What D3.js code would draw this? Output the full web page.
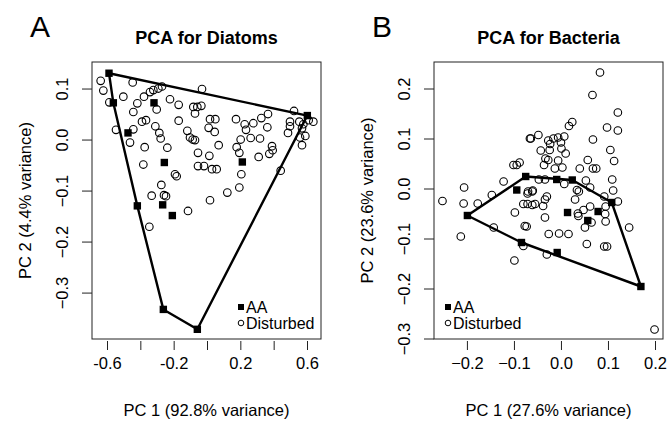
<!DOCTYPE html>
<html>
<head>
<meta charset="utf-8">
<script src="https://cdn.jsdelivr.net/npm/d3@7"></script>
<style>
  body { margin: 0; background: #fff; }
  text { font-family: "Liberation Sans", Arial, Helvetica, sans-serif; fill: #000; }
</style>
</head>
<body>
<svg id="chart" width="669" height="421"></svg>
<script>
// PCA scores: [PC1, PC2]
var diatomsAA = [
  [-0.588, 0.131], [0.602, 0.048], [-0.058, -0.371], [-0.262, -0.332], [-0.418, -0.129],
  [-0.562, 0.073], [-0.318, 0.073], [-0.474, 0.014], [-0.256, -0.044], [-0.266, -0.127],
  [-0.208, -0.148], [0.212, -0.043]
];
var diatomsDisturbed = [
  [-0.638, 0.116], [-0.622, 0.097], [-0.446, 0.113], [-0.502, 0.085], [-0.586, 0.074],
  [-0.418, 0.072], [-0.378, 0.085], [-0.342, 0.094], [-0.322, 0.098], [-0.292, 0.101],
  [-0.270, 0.105], [-0.302, 0.060], [-0.222, 0.080], [-0.170, 0.069], [-0.082, 0.065],
  [-0.442, 0.055], [-0.546, 0.020], [-0.442, 0.021], [-0.390, 0.036], [-0.366, 0.039],
  [-0.310, 0.027], [-0.286, 0.014], [-0.278, 0.003], [-0.238, -0.015], [-0.462, -0.005],
  [-0.374, -0.014], [-0.170, 0.038], [-0.118, 0.018], [-0.086, 0.001], [-0.072, 0.000],
  [-0.054, -0.025], [-0.382, -0.048], [-0.192, -0.067], [-0.182, -0.071], [-0.054, -0.051],
  [-0.274, -0.088], [-0.332, -0.109], [-0.258, -0.108], [-0.246, -0.110], [-0.114, -0.139],
  [-0.346, -0.170], [-0.030, 0.100], [-0.058, 0.065], [-0.034, 0.067], [-0.072, 0.052],
  [0.018, 0.041], [0.050, 0.041], [0.010, 0.024], [0.046, 0.016], [0.174, 0.041],
  [0.226, 0.031], [0.278, 0.033], [0.326, 0.043], [0.366, 0.051], [0.234, 0.020],
  [0.362, 0.025], [0.202, 0.001], [0.262, 0.004], [0.318, 0.003], [0.178, -0.014],
  [0.194, -0.025], [0.390, -0.012], [0.394, -0.020], [0.374, -0.027], [0.310, -0.033],
  [-0.102, 0.005], [0.070, -0.010], [0.014, -0.031], [-0.018, -0.051], [0.030, -0.057],
  [0.058, -0.057], [0.206, -0.067], [0.194, -0.093], [0.122, -0.103], [0.018, -0.118],
  [0.442, -0.060], [0.486, 0.014], [0.498, 0.036], [0.522, 0.057], [0.554, 0.036],
  [0.570, 0.023], [0.590, 0.008], [0.570, -0.010], [0.558, 0.005], [0.638, 0.036],
  [0.610, 0.039], [0.578, 0.031], [0.498, 0.027]
];

var bacteriaAA = [
  [-0.199, -0.053], [-0.075, 0.025], [-0.009, 0.019], [0.024, 0.018], [0.108, -0.027],
  [0.170, -0.195], [-0.008, -0.127], [-0.084, -0.107], [-0.094, -0.002], [0.014, -0.047],
  [0.079, -0.045], [0.057, -0.063]
];
var bacteriaDisturbed = [
  [-0.252, -0.024], [-0.206, 0.003], [-0.207, -0.029], [-0.177, -0.029], [-0.147, -0.012],
  [-0.122, 0.015], [-0.101, 0.048], [-0.094, 0.048], [-0.088, 0.053], [-0.066, 0.101],
  [-0.098, -0.047], [-0.080, -0.030], [-0.071, -0.009], [-0.061, -0.005], [-0.061, -0.032],
  [0.083, 0.233], [0.067, 0.188], [0.121, 0.153], [0.017, 0.126], [0.024, 0.134],
  [0.098, 0.123], [0.121, 0.117], [0.068, 0.099], [-0.064, 0.101], [-0.048, 0.108],
  [-0.027, 0.097], [-0.016, 0.101], [-0.006, 0.103], [0.007, 0.105], [-0.023, 0.090],
  [0.000, 0.093], [-0.043, 0.077], [-0.024, 0.078], [0.001, 0.081], [0.010, 0.071],
  [-0.033, 0.061], [-0.027, 0.058], [-0.036, 0.048], [-0.006, 0.057], [-0.013, 0.041],
  [0.003, 0.043], [0.057, 0.058], [0.068, 0.041], [0.075, 0.041], [0.040, 0.041],
  [0.105, 0.078], [0.113, 0.056], [0.109, 0.019], [0.111, -0.003], [0.121, -0.025],
  [-0.047, 0.019], [-0.034, 0.019], [0.053, 0.017], [0.007, 0.010], [0.034, -0.002],
  [0.062, 0.003], [0.092, -0.015], [-0.070, -0.005], [-0.060, -0.003], [-0.071, -0.030],
  [-0.055, -0.030], [-0.034, -0.021], [-0.038, -0.034], [-0.030, -0.015], [0.030, -0.021],
  [0.038, -0.005], [0.048, -0.042], [0.062, -0.035], [0.095, -0.035], [-0.034, -0.057],
  [0.036, -0.049], [-0.073, -0.075], [-0.026, -0.090], [-0.004, -0.089], [0.016, -0.090],
  [-0.030, -0.131], [0.055, -0.110], [0.092, -0.115], [0.098, -0.115], [0.051, -0.077],
  [0.065, -0.067], [0.095, -0.065], [0.145, -0.077], [0.199, -0.281], [0.094, -0.050],
  [0.037, -0.054], [-0.213, -0.095], [-0.143, -0.077], [-0.099, -0.143], [-0.077, -0.074],
  [-0.080, -0.114]
];

var diatomXTicks = [-0.6, -0.4, -0.2, 0.0, 0.2, 0.4, 0.6];
var diatomXLabels = ['-0.6', '', '-0.2', '', '0.2', '', '0.6'];
var diatomYTicks = [-0.3, -0.2, -0.1, 0.0, 0.1];
var bacteriaXTicks = [-0.2, -0.1, 0.0, 0.1, 0.2];
var bacteriaYTicks = [-0.3, -0.2, -0.1, 0.0, 0.1, 0.2];

var legendLabels = ['AA', 'Disturbed'];

var svg = d3.select('#chart');
var fmt = d3.format('.1f');

function drawPanel(opt) {
    var x = d3.scaleLinear().domain(opt.xDomain).range([opt.left, opt.right]);
    var y = d3.scaleLinear().domain(opt.yDomain).range([opt.bottom, opt.top]);
    var g = svg.append('g');

    // panel letter and title
    g.append('text')
        .attr('x', opt.letterX)
        .attr('y', 37)
        .style('font-size', '30px')
        .text(opt.letter);
    g.append('text')
        .attr('x', (opt.left + opt.right) / 2)
        .attr('y', 44)
        .attr('text-anchor', 'middle')
        .style('font-size', '18px')
        .style('font-weight', 'bold')
        .text(opt.title);

    // x axis
    var xAxis = d3.axisBottom(x)
        .tickValues(opt.xTicks)
        .tickSize(9)
        .tickPadding(7)
        .tickFormat(function(d, i) { return opt.xLabels ? opt.xLabels[i] : fmt(d); });
    var gx = g.append('g')
        .attr('transform', 'translate(0,' + (opt.bottom + 2) + ')')
        .call(xAxis);
    gx.select('.domain').remove();
    gx.selectAll('line').attr('stroke', '#222');
    gx.selectAll('text').style('font-size', '16.5px').attr('fill', '#000');

    // y axis, R style rotated labels
    var gy = g.append('g');
    gy.selectAll('line').data(opt.yTicks).enter().append('line')
        .attr('x1', opt.left - 10)
        .attr('x2', opt.left)
        .attr('y1', function(d) { return y(d); })
        .attr('y2', function(d) { return y(d); })
        .attr('stroke', '#222');
    gy.selectAll('text').data(opt.yTicks).enter().append('text')
        .attr('transform', function(d) {
            return 'translate(' + (opt.left - 30) + ',' + y(d) + ') rotate(-90)';
        })
        .attr('text-anchor', 'middle')
        .attr('dy', '0.35em')
        .style('font-size', '16.5px')
        .text(function(d) { return fmt(d); });

    // axis titles
    g.append('text')
        .attr('x', (opt.left + opt.right) / 2)
        .attr('y', 416)
        .attr('text-anchor', 'middle')
        .style('font-size', '16.5px')
        .text(opt.xTitle);
    g.append('text')
        .attr('transform', 'translate(' + (opt.left - 67) + ',' + ((opt.top + opt.bottom) / 2) + ') rotate(-90)')
        .attr('text-anchor', 'middle')
        .attr('dy', '0.35em')
        .style('font-size', '16.5px')
        .text(opt.yTitle);

    // open circles
    g.append('g').selectAll('circle').data(opt.disturbed).enter().append('circle')
        .attr('cx', function(d) { return x(d[0]); })
        .attr('cy', function(d) { return y(d[1]); })
        .attr('r', 3.8)
        .attr('fill', 'none')
        .attr('stroke', '#000')
        .attr('stroke-width', 1.1);

    // convex hull round the AA sites
    var hull = d3.polygonHull(opt.aa);
    g.append('path')
        .datum(hull)
        .attr('d', d3.line().x(function(d) { return x(d[0]); }).y(function(d) { return y(d[1]); }).curve(d3.curveLinearClosed))
        .attr('fill', 'none')
        .attr('stroke', '#000')
        .attr('stroke-width', 2.4)
        .attr('stroke-linejoin', 'round');

    // filled squares
    g.append('g').selectAll('rect').data(opt.aa).enter().append('rect')
        .attr('x', function(d) { return x(d[0]) - 3.7; })
        .attr('y', function(d) { return y(d[1]) - 3.7; })
        .attr('width', 7.4)
        .attr('height', 7.4)
        .attr('fill', '#000');

    // box
    g.append('rect')
        .attr('x', opt.left)
        .attr('y', opt.top)
        .attr('width', opt.right - opt.left)
        .attr('height', opt.bottom - opt.top)
        .attr('fill', 'none')
        .attr('stroke', '#222')
        .attr('stroke-width', 1);

    // legend
    var lg = g.append('g');
    lg.append('rect')
        .attr('x', opt.legendX - 3)
        .attr('y', 307 - 3)
        .attr('width', 6)
        .attr('height', 6)
        .attr('fill', '#000');
    lg.append('circle')
        .attr('cx', opt.legendX)
        .attr('cy', 323)
        .attr('r', 2.8)
        .attr('fill', 'none')
        .attr('stroke', '#000')
        .attr('stroke-width', 1);
    lg.selectAll('text').data(legendLabels).enter().append('text')
        .attr('x', opt.legendX + 5)
        .attr('y', function(d, i) { return 313 + i * 16; })
        .style('font-size', '16px')
        .text(function(d) { return d; });
}

drawPanel({
    letter: 'A', letterX: 30,
    title: 'PCA for Diatoms',
    left: 92, right: 321, top: 62, bottom: 339,
    xDomain: [-0.690, 0.684], yDomain: [-0.390, 0.153],
    xTicks: diatomXTicks, xLabels: diatomXLabels, yTicks: diatomYTicks,
    xTitle: 'PC 1 (92.8% variance)', yTitle: 'PC 2 (4.4% variance)',
    aa: diatomsAA, disturbed: diatomsDisturbed,
    legendX: 241
});

drawPanel({
    letter: 'B', letterX: 372,
    title: 'PCA for Bacteria',
    left: 434, right: 663, top: 62, bottom: 339,
    xDomain: [-0.270, 0.217], yDomain: [-0.300, 0.254],
    xTicks: bacteriaXTicks, xLabels: null, yTicks: bacteriaYTicks,
    xTitle: 'PC 1 (27.6% variance)', yTitle: 'PC 2 (23.6% variance)',
    aa: bacteriaAA, disturbed: bacteriaDisturbed,
    legendX: 448
});
</script>
</body>
</html>
